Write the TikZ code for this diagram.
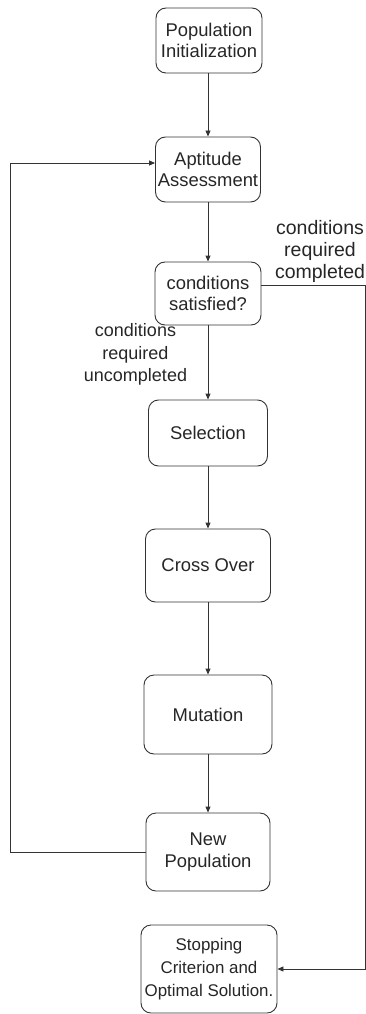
\documentclass[tikz,border=0pt]{standalone}
\usepackage{fontspec}
\setmainfont{Liberation Sans}
\usetikzlibrary{arrows.meta}
\begin{document}
\begin{tikzpicture}[x=1pt,y=-1pt,
  box/.style={draw=black!80, line width=0.9pt, rounded corners=10pt, align=center,
    text=black!85, inner sep=0pt, font=\fontsize{18.4pt}{21.5pt}\selectfont},
  arr/.style={draw=black!80, line width=0.9pt, -{Triangle[length=6pt,width=5pt]}},
  lbl/.style={align=center, text=black!85, inner sep=0pt}]
\useasboundingbox (0,0) rectangle (366,1014);
\node[box, minimum width=106pt, minimum height=65pt] (pi) at (209,40.5) {Population\\Initialization};
\node[box, minimum width=105pt, minimum height=65pt] (aa) at (208,169.5) {Aptitude\\Assessment};
\node[box, minimum width=106pt, minimum height=63pt] (cs) at (208,293.5) {conditions\\satisfied?};
\node[box, minimum width=119pt, minimum height=66pt] (sel) at (208,433) {Selection};
\node[box, minimum width=125pt, minimum height=73pt] (co) at (208,565.5) {Cross Over};
\node[box, minimum width=128pt, minimum height=79pt] (mu) at (208,714.5) {Mutation};
\node[box, minimum width=124pt, minimum height=78pt] (np) at (208,852) {New\\Population};
\node[box, minimum width=136pt, minimum height=88pt, font=\fontsize{16.9pt}{23pt}\selectfont] (st) at (209,969) {Stopping\\Criterion and\\Optimal Solution.};
\node[lbl, font=\fontsize{19.5pt}{21.8pt}\selectfont] (lc) at (320,251.5) {conditions\\required\\completed};
\node[lbl, font=\fontsize{18pt}{22.5pt}\selectfont] (lu) at (135.5,354.5) {conditions\\required\\uncompleted};
\coordinate (lx) at (10,0);
\coordinate (rx) at (365,0);
\coordinate (aain) at ([yshift=6.5pt]aa.west);
\coordinate (csout) at ([yshift=8.5pt]cs.east);
\draw[arr] (pi.south -| aa.south) -- (aa.north);
\draw[arr] (aa) -- (cs);
\draw[arr] (cs) -- (sel);
\draw[arr] (sel) -- (co);
\draw[arr] (co) -- (mu);
\draw[arr] (mu) -- (np);
\draw[arr] (np.west) -- (lx |- np.west) -- (lx |- aain) -- (aain);
\draw[arr] (csout) -- (rx |- csout) -- (rx |- st.east) -- (st.east);
\end{tikzpicture}
\end{document}
